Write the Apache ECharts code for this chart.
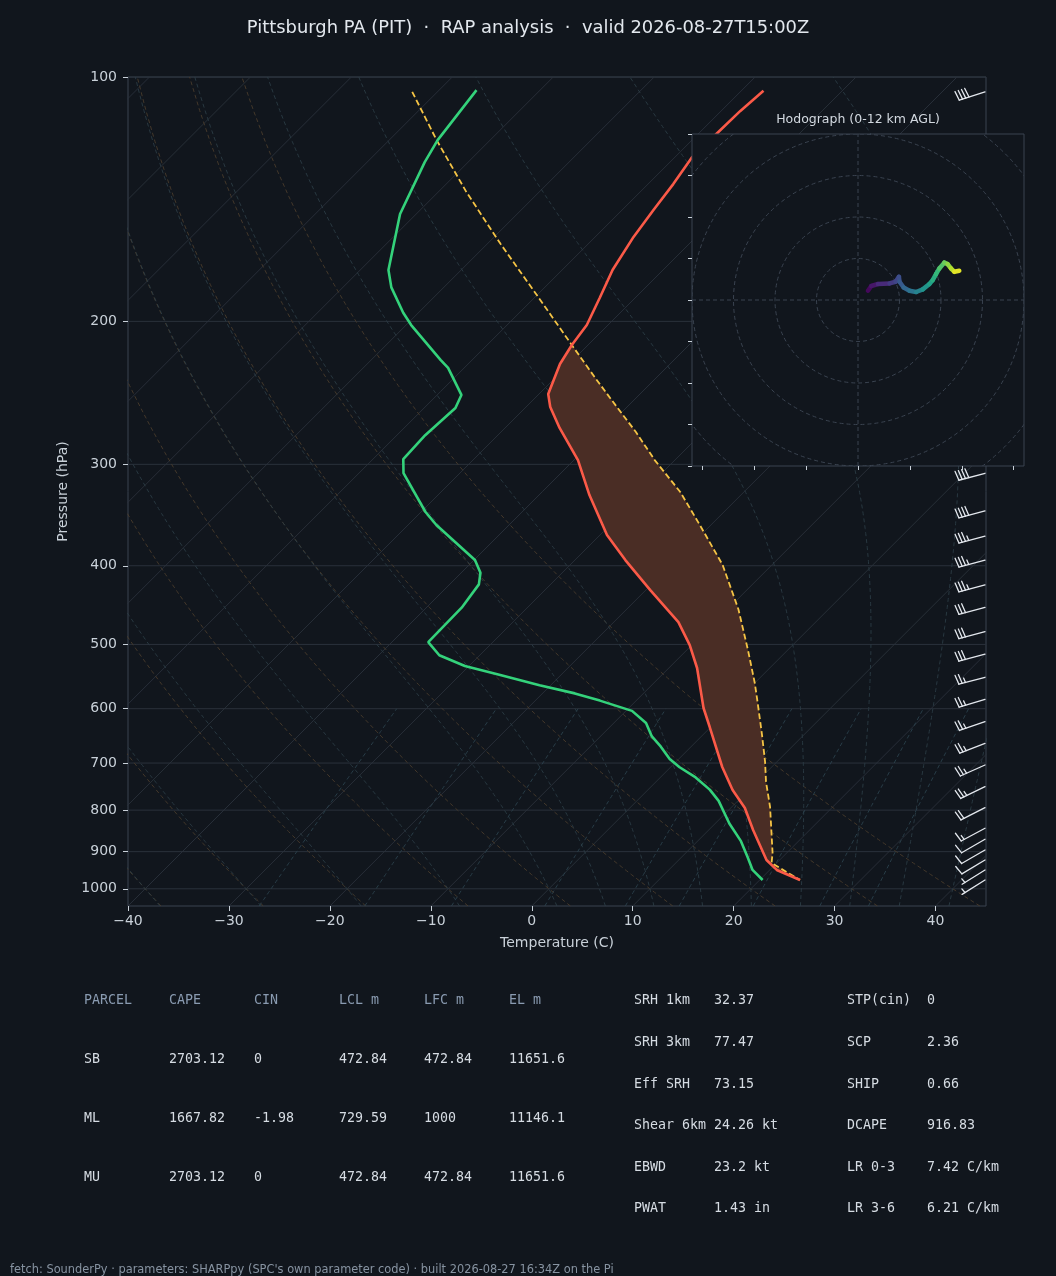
<!DOCTYPE html>
<html><head><meta charset="utf-8">
<script src="https://cdn.jsdelivr.net/npm/echarts@6/dist/echarts.min.js"></script>
<style>html,body{margin:0;padding:0;background:#11161d;}#c{width:1056px;height:1276px;}</style>
</head><body><div id="c"></div>
<script>
// ---------------- DATA ----------------
const envP = [104.0,110.1,117.2,125.5,135.5,145.8,157.4,172.9,187.2,202.1,213.9,225.7,245.7,255.0,270.6,296.4,327.3,366.6,393.6,428.3,469.3,500.9,534.6,598.8,632.0,707.9,755.5,795.1,846.4,921.6,947.9,975.4];
const envT = [-57.8,-58.1,-58.2,-58.3,-57.5,-56.9,-56.2,-55.0,-53.5,-52.1,-51.6,-50.9,-49.1,-47.6,-44.6,-39.6,-35.0,-29.3,-25.0,-19.6,-13.6,-10.2,-7.2,-2.6,-0.1,5.1,8.4,11.4,14.4,18.7,20.7,24.0];
const dwptP = [103.8,119.6,127.3,147.5,172.9,181.6,195.2,202.1,223.2,228.2,246.4,255.7,276.2,295.6,307.5,343.2,356.3,393.6,408.0,421.7,450.5,496.7,515.6,531.6,545.4,561.4,574.5,586.4,603.7,625.0,649.1,668.2,692.0,708.4,729.2,754.8,779.3,807.0,830.9,873.6,915.2,947.9,975.4];
const dwptT = [-86.3,-85.2,-84.3,-81.6,-77.2,-75.2,-71.5,-69.5,-63.1,-61.6,-57.6,-56.9,-57.2,-57.0,-55.6,-49.6,-47.2,-39.9,-38.1,-37.1,-36.5,-36.4,-34.0,-30.4,-26.0,-21.1,-16.8,-13.6,-9.4,-6.8,-4.9,-3.0,-0.9,0.9,3.5,6.1,8.1,9.9,11.4,14.3,16.6,18.3,20.3];
const parcelP = [104.3,119.6,138.6,160.5,188.2,213.9,234.9,255.0,273.9,296.4,324.5,356.3,398.9,452.8,508.5,557.8,590.8,645.3,697.0,738.2,792.9,903.3,929.5,975.4];
const parcelT = [-92.5,-85.3,-77.2,-68.7,-59.2,-51.6,-46.0,-41.0,-36.6,-32.0,-26.3,-21.1,-14.9,-8.9,-3.9,0.0,2.3,5.8,8.8,10.9,13.8,18.6,19.5,24.0];

const barbP   = [104.3,307.7,342.4,367.7,393.6,422.3,450.1,482.3,514.1,548.8,584.2,622.5,662.1,703.9,748.4,794.5,842.3,869.0,895.8,921.5,948.0,975.4];
const barbSpd = [40,40,40,35,35,35,30,30,30,25,25,25,25,25,25,20,15,10,10,10,5,5];
const barbDir = [252,255,255,255,255,255,255,255,255,255,253,251,249,246,244,243,242,240,240,239,238,238];

const hodoU = [2.4,3.2,4.8,7.6,9.05,9.86,10.0,11.0,12.4,14.0,15.6,17.2,18.0,18.8,19.6,20.8,21.6,22.4,23.2,24.4];
const hodoV = [2.24,3.37,3.85,4.0,4.4,5.6,4.4,3.0,2.24,1.92,2.56,3.85,4.8,6.25,7.6,9.0,8.65,7.6,6.8,7.05];
const hodoH = [0,0.5,1.0,1.8,2.3,2.7,3.1,3.6,4.2,5.0,5.8,6.6,7.1,7.7,8.3,9.0,9.6,10.3,11.0,12.0];
const hodoRings = [10,20,30,40,50];
const hodoXTicks = [-37.5,-25,-12.5,0,12.5,25,37.5];

const pressureTicks = [100,200,300,400,500,600,700,800,900,1000];
const tempTicks = [-40,-30,-20,-10,0,10,20,30,40];
const isothermT = [-130,-120,-110,-100,-90,-80,-70,-60,-50,-40,-30,-20,-10,0,10,20,30,40];
const dryT0 = [-40,-30,-20,-10,0,10,20,30,40];
const moistT0 = [-40,-30,-20,-10,0,5,10,15,20,25,30,35,40,45];
const mixW = [0.0004,0.001,0.002,0.004,0.007,0.01,0.016,0.024,0.032];

const titleText = 'Pittsburgh PA (PIT)  \u00b7  RAP analysis  \u00b7  valid 2026-08-27T15:00Z';
const tableHeader = ['PARCEL','CAPE','CIN','LCL m','LFC m','EL m'];
const tableRows = [
  ['SB','2703.12','0','472.84','472.84','11651.6'],
  ['ML','1667.82','-1.98','729.59','1000','11146.1'],
  ['MU','2703.12','0','472.84','472.84','11651.6']
];
const paramsLeft = [['SRH 1km','32.37'],['SRH 3km','77.47'],['Eff SRH','73.15'],['Shear 6km','24.26 kt'],['EBWD','23.2 kt'],['PWAT','1.43 in']];
const paramsRight = [['STP(cin)','0'],['SCP','2.36'],['SHIP','0.66'],['DCAPE','916.83'],['LR 0-3','7.42 C/km'],['LR 3-6','6.21 C/km']];
const footerText = "fetch: SounderPy \u00b7 parameters: SHARPpy (SPC's own parameter code) \u00b7 built 2026-08-27 16:34Z on the Pi";

// ---------------- LAYOUT / STYLE ----------------
const X_MIN = -40, X_MAX = 45, P_TOP = 100, P_BOT = 1050;
const G = {left:128, top:77, width:858, height:829};
const H = {left:692, top:134, width:332, height:332};
const SKEW = (G.height / Math.log10(P_BOT / P_TOP)) / (G.width / (X_MAX - X_MIN));
const skewX = (T, p) => T + SKEW * Math.log10(P_BOT / p);
const BG = '#11161d', FRAME = '#3a4350', TXT = '#c9d1d9';
const RD = 287.04, CP = 1005.7, LV = 2.501e6, EPS = 0.622;

const curveP = []; for (let p = 1050; p >= 100; p -= 10) curveP.push(p);
const mixP = []; for (let p = 1050; p >= 600; p -= 10) mixP.push(p);

const series = [];
function bgLine(data, color, type, width) {
  series.push({type:'line', xAxisIndex:0, yAxisIndex:0, data, symbol:'none', silent:true,
    animation:false, z:1, lineStyle:{color, width, type}});
}
pressureTicks.forEach(p => bgLine([[X_MIN,p],[X_MAX,p]], '#2a313b', 'solid', 1));
isothermT.forEach(T => bgLine([[skewX(T,P_BOT),P_BOT],[skewX(T,P_TOP),P_TOP]], '#2a313b', 'solid', 0.9));
dryT0.forEach(t0 => bgLine(curveP.map(p => {
  const T = (t0 + 273.15) * Math.pow(p / 1000, RD / CP) - 273.15; return [skewX(T,p), p];
}), '#4a3c2c', [4,3], 0.9));
function dTdp(p, T) {
  const tc = T - 273.15; const es = 6.112 * Math.exp(17.67 * tc / (tc + 243.5));
  const rs = EPS * es / (p - es);
  return (RD * T + LV * rs) / (CP + LV * LV * rs * EPS / (RD * T * T)) / p;
}
function integ(p0, p1, T0, h) {
  let p = p0, T = T0; const out = [[p, T]];
  while ((h < 0 && p + h >= p1 - 1e-9) || (h > 0 && p + h <= p1 + 1e-9)) {
    const k1 = dTdp(p, T), k2 = dTdp(p + h/2, T + h/2*k1), k3 = dTdp(p + h/2, T + h/2*k2), k4 = dTdp(p + h, T + h*k3);
    T += h/6*(k1 + 2*k2 + 2*k3 + k4); p += h; out.push([p, T]);
  }
  return out;
}
moistT0.forEach(t0 => {
  const up = integ(1000, 100, t0 + 273.15, -5);
  const down = integ(1000, 1050, t0 + 273.15, 5).reverse();
  const all = down.concat(up.slice(1));
  bgLine(all.map(([p, T]) => [skewX(T - 273.15, p), p]), '#2b3c45', [4,3], 0.9);
});
mixW.forEach(w => bgLine(mixP.map(p => {
  const e = p * w / (EPS + w); const l = Math.log(e / 6.112); const Td = 243.5 * l / (17.67 - l);
  return [skewX(Td, p), p];
}), '#2b424d', [4,3], 0.9));

// CAPE shading
function interpLog(P, V, p) {
  const idx = P.map((v, i) => i).sort((a, b) => P[a] - P[b]);
  const ps = idx.map(i => P[i]), vs = idx.map(i => V[i]);
  if (p <= ps[0]) return vs[0];
  if (p >= ps[ps.length - 1]) return vs[vs.length - 1];
  for (let i = 1; i < ps.length; i++) {
    if (p <= ps[i]) { const f = (Math.log(p) - Math.log(ps[i-1])) / (Math.log(ps[i]) - Math.log(ps[i-1])); return vs[i-1] + f * (vs[i] - vs[i-1]); }
  }
}
series.push({type:'custom', xAxisIndex:0, yAxisIndex:0, data:[[0, 500]], silent:true, animation:false, z:2,
  renderItem: (params, api) => {
    const top = 200, bot = Math.max(...envP);
    const lv = Array.from(new Set(envP.concat(parcelP).filter(p => p >= top && p <= bot))).sort((a, b) => a - b);
    const right = [], left = [];
    lv.forEach(p => {
      const xe = skewX(interpLog(envP, envT, p), p), xp = skewX(interpLog(parcelP, parcelT, p), p);
      right.push(api.coord([Math.max(xe, xp), p])); left.push(api.coord([xe, p]));
    });
    return {type:'polygon', shape:{points: right.concat(left.reverse())}, style:{fill:'#4a2d25'}};
  }});

series.push({type:'line', xAxisIndex:0, yAxisIndex:0, symbol:'none', animation:false, z:3,
  data: parcelP.map((p, i) => [skewX(parcelT[i], p), p]), lineStyle:{color:'#f5c445', width:1.8, type:[6,3]}});
series.push({type:'line', xAxisIndex:0, yAxisIndex:0, symbol:'none', animation:false, z:4,
  data: dwptP.map((p, i) => [skewX(dwptT[i], p), p]), lineStyle:{color:'#34d27b', width:2.6}});
series.push({type:'line', xAxisIndex:0, yAxisIndex:0, symbol:'none', animation:false, z:4,
  data: envP.map((p, i) => [skewX(envT[i], p), p]), lineStyle:{color:'#fb5a48', width:2.6}});

// wind barbs
series.push({type:'custom', xAxisIndex:0, yAxisIndex:0, silent:true, animation:false, z:5,
  data: barbP.map((p, i) => [X_MAX, p, barbSpd[i], barbDir[i]]),
  renderItem: (params, api) => {
    const base = api.coord([api.value(0), api.value(1)]);
    const spd = api.value(2), dir = api.value(3) * Math.PI / 180;
    const bx = base[0] - 1, by = base[1];
    const sx = Math.sin(dir), sy = -Math.cos(dir);
    const STAFF = 27, L = 9.5, SP = 3.4;
    const tx = bx + sx * STAFF, ty = by + sy * STAFF;
    const px = -sy, py = sx;
    const st = {stroke:'#e4e8ee', lineWidth:1.3, lineCap:'round'};
    const ch = [{type:'line', shape:{x1:bx, y1:by, x2:tx, y2:ty}, style:st}];
    const full = Math.floor(spd / 10), half = (spd % 10) >= 5 ? 1 : 0;
    let pos = 0;
    for (let k = 0; k < full; k++) {
      const x0 = tx - sx * pos, y0 = ty - sy * pos;
      ch.push({type:'line', shape:{x1:x0, y1:y0, x2:x0 + px*L + sx*0.15*L, y2:y0 + py*L + sy*0.15*L}, style:st});
      pos += SP;
    }
    if (half) {
      if (full === 0) pos = SP;
      const x0 = tx - sx * pos, y0 = ty - sy * pos, l = L / 2;
      ch.push({type:'line', shape:{x1:x0, y1:y0, x2:x0 + px*l + sx*0.15*l, y2:y0 + py*l + sy*0.15*l}, style:st});
    }
    return {type:'group', children: ch};
  }});

// hodograph
series.push({type:'custom', xAxisIndex:1, yAxisIndex:1, silent:true, animation:false, z:11, clip:true,
  data: hodoRings.map(r => [0, 0, r]),
  renderItem: (params, api) => {
    const c = api.coord([0, 0]); const rr = api.size([api.value(2), 0])[0];
    const cs = params.coordSys;
    return {type:'group', clipPath:{type:'rect', shape:{x:cs.x, y:cs.y, width:cs.width, height:cs.height}},
      children:[{type:'circle', shape:{cx:c[0], cy:c[1], r:rr}, style:{fill:null, stroke:'#3a4350', lineWidth:1, lineDash:[4,3]}}]};
  }});
series.push({type:'line', xAxisIndex:1, yAxisIndex:1, symbol:'none', silent:true, animation:false, z:11,
  data:[[-40,0],[40,0]], lineStyle:{color:'#3a4350', width:1, type:[4,3]}});
series.push({type:'line', xAxisIndex:1, yAxisIndex:1, symbol:'none', silent:true, animation:false, z:11,
  data:[[0,-40],[0,40]], lineStyle:{color:'#3a4350', width:1, type:[4,3]}});
const hodoIdx = series.length;
const hodoSegs = [];
for (let i = 0; i < hodoU.length - 1; i++) hodoSegs.push([hodoU[i], hodoV[i], hodoU[i+1], hodoV[i+1], (hodoH[i] + hodoH[i+1]) / 2]);
series.push({type:'custom', xAxisIndex:1, yAxisIndex:1, silent:true, animation:false, z:12,
  encode:{x:[0,2], y:[1,3]}, data: hodoSegs,
  renderItem: (params, api) => {
    const a = api.coord([api.value(0), api.value(1)]), b = api.coord([api.value(2), api.value(3)]);
    return {type:'line', shape:{x1:a[0], y1:a[1], x2:b[0], y2:b[1]}, style:{stroke: api.visual('color'), lineWidth:4.5, lineCap:'round'}};
  }});

// texts
const graphic = [];
const T = (x, y, text, font, fill, align) => graphic.push({type:'text', x, y, z:20, silent:true,
  style:{text, font, fill, align: align || 'left', verticalAlign:'middle'}});
T(528, 28, titleText, '17.9px "DejaVu Sans"', '#e3e8ee', 'center');
T(858, 120, 'Hodograph (0-12 km AGL)', '12.5px "DejaVu Sans"', '#d3d9e0', 'center');
const MONO = '13.3px "DejaVu Sans Mono"';
const colX = [84, 169, 254, 339, 424, 509];
tableHeader.forEach((h, i) => T(colX[i], 1001, h, MONO, '#8a9bb1'));
tableRows.forEach((row, r) => row.forEach((v, i) => T(colX[i], 1060 + r * 59, v, MONO, '#d6dce3')));
paramsLeft.forEach(([k, v], r) => { T(634, 1001 + r * 41.6, k, MONO, '#d6dce3'); T(714, 1001 + r * 41.6, v, MONO, '#d6dce3'); });
paramsRight.forEach(([k, v], r) => { T(847, 1001 + r * 41.6, k, MONO, '#d6dce3'); T(927, 1001 + r * 41.6, v, MONO, '#d6dce3'); });
T(10, 1270, footerText, '11.4px "DejaVu Sans"', '#8793a1');

const fmtT = v => v < 0 ? '\u2212' + Math.abs(v) : String(v);
const tick = {show:true, inside:false, length:5, lineStyle:{color:TXT, width:1}};
const option = {
  backgroundColor: BG,
  animation: false,
  textStyle: {fontFamily: 'DejaVu Sans'},
  grid: [
    Object.assign({show:true, borderColor:FRAME, borderWidth:1, backgroundColor:'transparent', z:0}, G),
    Object.assign({show:true, borderColor:FRAME, borderWidth:1, backgroundColor:BG, z:10}, H)
  ],
  xAxis: [
    {type:'value', gridIndex:0, min:X_MIN, max:X_MAX, interval:10, position:'bottom',
     axisLine:{show:false, onZero:false}, splitLine:{show:false},
     axisTick:Object.assign({customValues:tempTicks}, tick),
     axisLabel:{customValues:tempTicks, color:TXT, fontSize:14, margin:8, formatter:fmtT},
     name:'Temperature (C)', nameLocation:'middle', nameGap:30, nameTextStyle:{color:TXT, fontSize:14}},
    {type:'value', gridIndex:1, min:-40, max:40, z:11, position:'bottom',
     axisLine:{show:false, onZero:false}, splitLine:{show:false},
     axisTick:{show:true, inside:false, length:4, customValues:hodoXTicks, lineStyle:{color:TXT}},
     axisLabel:{show:false, customValues:hodoXTicks}}
  ],
  yAxis: [
    {type:'log', logBase:10, gridIndex:0, min:P_TOP, max:P_BOT, inverse:true, position:'left',
     axisLine:{show:false, onZero:false}, splitLine:{show:false}, minorTick:{show:false},
     axisTick:Object.assign({customValues:pressureTicks}, tick),
     axisLabel:{customValues:pressureTicks, color:TXT, fontSize:14, margin:11, formatter:v => String(Math.round(v))},
     name:'Pressure (hPa)', nameLocation:'middle', nameGap:58, nameRotate:90, nameTextStyle:{color:TXT, fontSize:14}},
    {type:'value', gridIndex:1, min:-40, max:40, interval:10, z:11, position:'left',
     axisLine:{show:false, onZero:false}, splitLine:{show:false},
     axisTick:{show:true, inside:false, length:4, lineStyle:{color:TXT}},
     axisLabel:{show:false}}
  ],
  visualMap: {type:'continuous', show:false, seriesIndex:hodoIdx, dimension:4, min:0, max:12,
    inRange:{color:['#440154','#482878','#3e4989','#31688e','#26828e','#1f9e89','#35b779','#6ece58','#b5de2b','#fde725']}},
  series, graphic
};
const chart = echarts.init(document.getElementById('c'), null, {renderer:'canvas'});
chart.setOption(option);
</script></body></html>
